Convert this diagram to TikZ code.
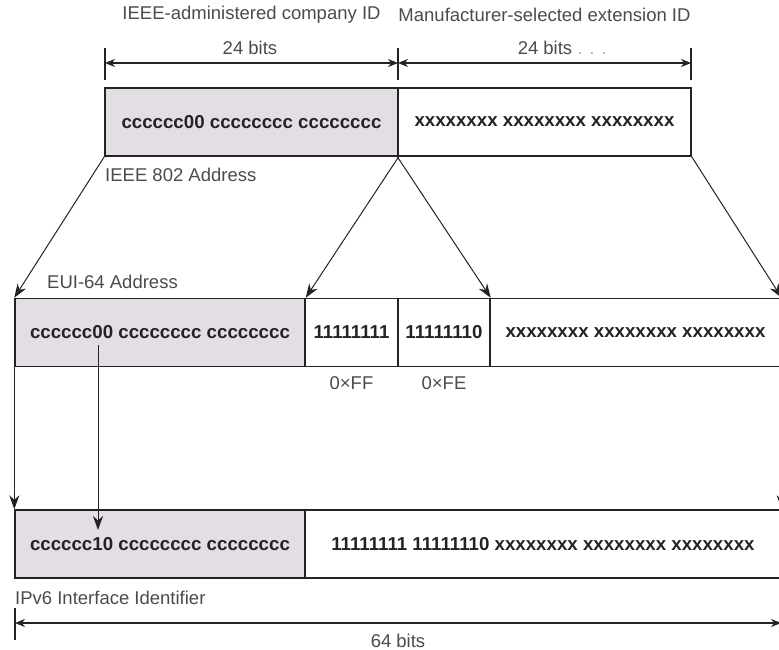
\documentclass[tikz,border=0pt]{standalone}
\usepackage{fontspec}
\setmainfont{Liberation Sans}
\usetikzlibrary{arrows.meta,positioning,calc}
\definecolor{oui}{RGB}{226,222,228}
\definecolor{ink}{RGB}{35,35,35}
\definecolor{note}{RGB}{75,75,75}

\begin{document}
\begin{tikzpicture}[
  x=1pt, y=-1pt,
  every node/.style={font=\fontsize{18.5}{22}\selectfont, text=note, inner sep=0pt},
  field/.style={draw=ink, line width=1.4pt, minimum height=68pt,
                font=\fontsize{18.7}{22}\selectfont\bfseries, text=ink},
  map/.style={-{Stealth[length=14pt,width=10pt]}, line width=1pt, ink},
  dim/.style={{Stealth[length=10pt,width=8pt]}-{Stealth[length=10pt,width=8pt]},
              line width=1.1pt, ink},
  tick/.style={line width=1.1pt, ink}
]
\useasboundingbox (0,0) rectangle (779,650);
\clip (0,0) rectangle (779,650);

% IEEE 802 address
\node[field, fill=oui, minimum width=293pt] (ieeeC) at (251.5,122) {cccccc00 cccccccc cccccccc};
\node[field, minimum width=293pt] (ieeeX) at (544.5,122) {xxxxxxxx xxxxxxxx xxxxxxxx};

% EUI-64 address
\node[field, fill=oui, minimum width=290pt] (euiC) at (160,332.5) {cccccc00 cccccccc cccccccc};
\node[field, minimum width=93pt] (euiFF) at (351.5,332.5) {11111111};
\node[field, minimum width=92pt] (euiFE) at (444,332.5) {11111110};
\node[field, minimum width=291pt] (euiX) at (635.5,332.5) {xxxxxxxx xxxxxxxx xxxxxxxx};

% IPv6 interface identifier
\node[field, fill=oui, minimum width=290pt] (ipC) at (160,544) {cccccc10 cccccccc cccccccc};
\node[field, minimum width=476pt] (ipR) at (543,544) {11111111 11111110 xxxxxxxx xxxxxxxx xxxxxxxx};

% Headings and labels
\node (hdC) at (251.5,15) {IEEE-administered company ID};
\node (hdX) at (544.5,15) {Manufacturer-selected extension ID};
\node (bitsC) at (250,48) {24 bits};
\node (bitsX) at (545,48) {24 bits\rlap{\textcolor{note!45}{\ . . .}}};
\node[anchor=west] (lblIeee) at (105,175) {IEEE 802 Address};
\node[anchor=west] (lblEui) at (47,282) {EUI-64 Address};
\node (lblFF) at (351.5,383) {0×FF};
\node (lblFE) at (444,383) {0×FE};
\node[anchor=west] (lblIp) at (15,598) {IPv6 Interface Identifier};
\node (bits64) at (398,641) {64 bits};

% Dimension lines
\coordinate (dA) at (105,63);
\coordinate (dB) at (398,63);
\coordinate (dC) at (691,63);
\draw[dim] (dA) -- (dB);
\draw[dim] (dB) -- (dC);
\foreach \c in {dA,dB,dC}
  \draw[tick] (\c) ++(0,-15) -- ++(0,32);

\coordinate (eA) at (15,623);
\coordinate (eB) at (781,623);
\draw[dim] (eA) -- (eB);
\draw[tick] (eA) ++(0,-15) -- ++(0,32);

% Mapping arrows
\draw[map] (ieeeC.south west) -- (euiC.north west);
\draw[map] (ieeeC.south east) -- (euiC.north east);
\draw[map] (ieeeX.south west) -- (euiFE.north east);
\draw[map] (ieeeX.south east) -- (euiX.north east);
\draw[map] (euiC.south west) -- (ipC.north west);
\draw[map] (euiX.south east) -- (ipR.north east);

% U/L bit flip
\coordinate (ulFrom) at (98,345);
\coordinate (ulTo) at (98,530);
\draw[map] (ulFrom) -- (ulTo);

\end{tikzpicture}
\end{document}
